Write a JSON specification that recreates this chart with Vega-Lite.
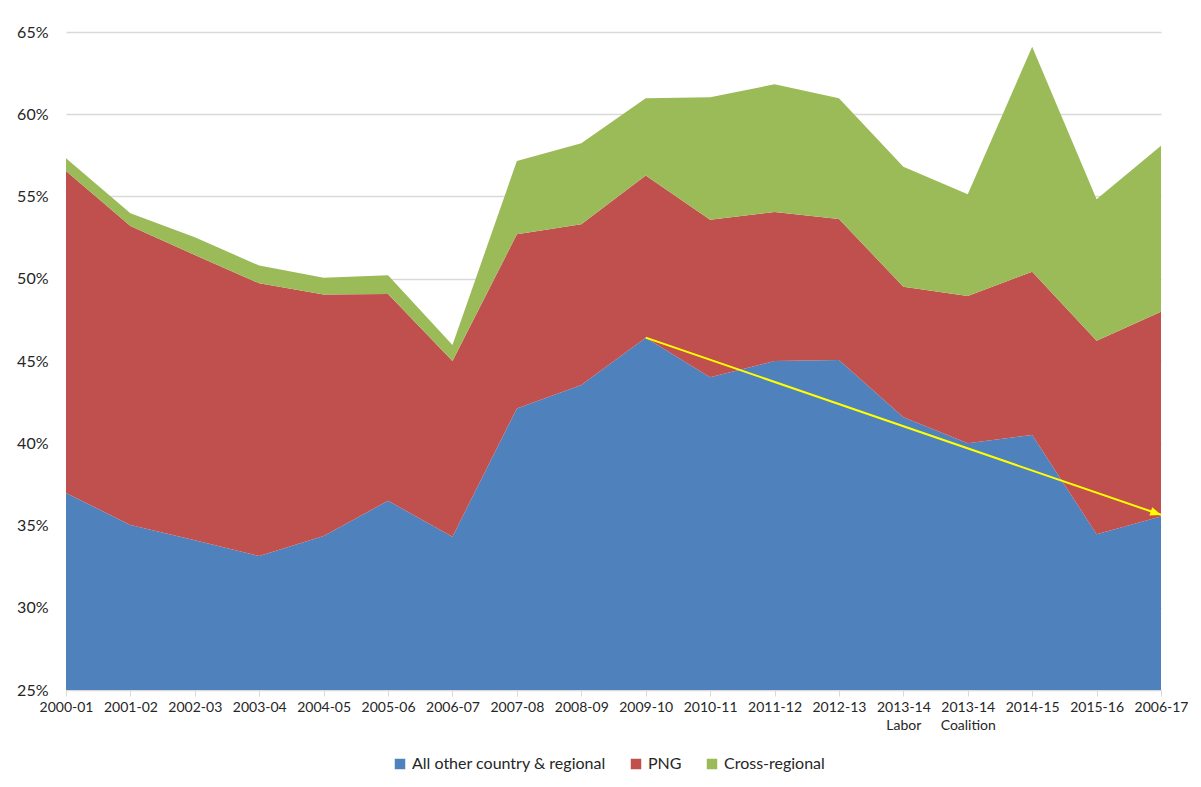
{
  "$schema": "https://vega.github.io/schema/vega-lite/v6.json",
  "width": 1095,
  "height": 658,
  "autosize": {"type": "none"},
  "padding": {"left": 66, "top": 32, "right": 40, "bottom": 97},
  "background": "white",
  "config": {
    "view": {"stroke": null},
    "font": "Lato",
    "axis": {"labelFont": "Lato", "labelColor": "#262626"},
    "legend": {"labelFont": "Lato", "labelColor": "#262626"}
  },
  "datasets": {
    "shares": [
      {"year": "2000-01", "s": "All other country & regional", "o": 1, "v": 0.3698},
      {"year": "2000-01", "s": "PNG", "o": 2, "v": 0.1957},
      {"year": "2000-01", "s": "Cross-regional", "o": 3, "v": 0.0077},
      {"year": "2001-02", "s": "All other country & regional", "o": 1, "v": 0.3503},
      {"year": "2001-02", "s": "PNG", "o": 2, "v": 0.1817},
      {"year": "2001-02", "s": "Cross-regional", "o": 3, "v": 0.0078},
      {"year": "2002-03", "s": "All other country & regional", "o": 1, "v": 0.3410},
      {"year": "2002-03", "s": "PNG", "o": 2, "v": 0.1734},
      {"year": "2002-03", "s": "Cross-regional", "o": 3, "v": 0.0108},
      {"year": "2003-04", "s": "All other country & regional", "o": 1, "v": 0.3315},
      {"year": "2003-04", "s": "PNG", "o": 2, "v": 0.1657},
      {"year": "2003-04", "s": "Cross-regional", "o": 3, "v": 0.0108},
      {"year": "2004-05", "s": "All other country & regional", "o": 1, "v": 0.3436},
      {"year": "2004-05", "s": "PNG", "o": 2, "v": 0.1469},
      {"year": "2004-05", "s": "Cross-regional", "o": 3, "v": 0.0101},
      {"year": "2005-06", "s": "All other country & regional", "o": 1, "v": 0.3650},
      {"year": "2005-06", "s": "PNG", "o": 2, "v": 0.1257},
      {"year": "2005-06", "s": "Cross-regional", "o": 3, "v": 0.0114},
      {"year": "2006-07", "s": "All other country & regional", "o": 1, "v": 0.3432},
      {"year": "2006-07", "s": "PNG", "o": 2, "v": 0.1068},
      {"year": "2006-07", "s": "Cross-regional", "o": 3, "v": 0.0097},
      {"year": "2007-08", "s": "All other country & regional", "o": 1, "v": 0.4212},
      {"year": "2007-08", "s": "PNG", "o": 2, "v": 0.1058},
      {"year": "2007-08", "s": "Cross-regional", "o": 3, "v": 0.0446},
      {"year": "2008-09", "s": "All other country & regional", "o": 1, "v": 0.4354},
      {"year": "2008-09", "s": "PNG", "o": 2, "v": 0.0977},
      {"year": "2008-09", "s": "Cross-regional", "o": 3, "v": 0.0492},
      {"year": "2009-10", "s": "All other country & regional", "o": 1, "v": 0.4642},
      {"year": "2009-10", "s": "PNG", "o": 2, "v": 0.0985},
      {"year": "2009-10", "s": "Cross-regional", "o": 3, "v": 0.0470},
      {"year": "2010-11", "s": "All other country & regional", "o": 1, "v": 0.4401},
      {"year": "2010-11", "s": "PNG", "o": 2, "v": 0.0958},
      {"year": "2010-11", "s": "Cross-regional", "o": 3, "v": 0.0744},
      {"year": "2011-12", "s": "All other country & regional", "o": 1, "v": 0.4500},
      {"year": "2011-12", "s": "PNG", "o": 2, "v": 0.0906},
      {"year": "2011-12", "s": "Cross-regional", "o": 3, "v": 0.0776},
      {"year": "2012-13", "s": "All other country & regional", "o": 1, "v": 0.4506},
      {"year": "2012-13", "s": "PNG", "o": 2, "v": 0.0857},
      {"year": "2012-13", "s": "Cross-regional", "o": 3, "v": 0.0734},
      {"year": "2013-14|Labor", "s": "All other country & regional", "o": 1, "v": 0.4158},
      {"year": "2013-14|Labor", "s": "PNG", "o": 2, "v": 0.0794},
      {"year": "2013-14|Labor", "s": "Cross-regional", "o": 3, "v": 0.0729},
      {"year": "2013-14|Coalition", "s": "All other country & regional", "o": 1, "v": 0.4000},
      {"year": "2013-14|Coalition", "s": "PNG", "o": 2, "v": 0.0895},
      {"year": "2013-14|Coalition", "s": "Cross-regional", "o": 3, "v": 0.0618},
      {"year": "2014-15", "s": "All other country & regional", "o": 1, "v": 0.4050},
      {"year": "2014-15", "s": "PNG", "o": 2, "v": 0.0993},
      {"year": "2014-15", "s": "Cross-regional", "o": 3, "v": 0.1368},
      {"year": "2015-16", "s": "All other country & regional", "o": 1, "v": 0.3447},
      {"year": "2015-16", "s": "PNG", "o": 2, "v": 0.1176},
      {"year": "2015-16", "s": "Cross-regional", "o": 3, "v": 0.0860},
      {"year": "2006-17", "s": "All other country & regional", "o": 1, "v": 0.3554},
      {"year": "2006-17", "s": "PNG", "o": 2, "v": 0.1246},
      {"year": "2006-17", "s": "Cross-regional", "o": 3, "v": 0.1009}
    ],
    "trend": [
      {"year": "2009-10", "v": 0.4642},
      {"year": "2006-17", "v": 0.3565}
    ]
  },
  "layer": [
    {
      "data": {"name": "shares"},
      "mark": {"type": "area", "clip": true, "opacity": 1},
      "encoding": {
        "x": {
          "field": "year",
          "type": "ordinal",
          "sort": null,
          "scale": {"type": "point", "padding": 0},
          "axis": {
            "title": null,
            "labelAngle": 0,
            "labelFontSize": 14,
            "labelPadding": 4,
            "labelExpr": "split(datum.label, '|')",
            "labelLineHeight": 18,
            "domainColor": "#d9d9d9",
            "tickColor": "#d9d9d9",
            "tickSize": 6,
            "grid": false
          }
        },
        "y": {
          "field": "v",
          "type": "quantitative",
          "stack": "zero",
          "scale": {"domain": [0.25, 0.65], "zero": false, "nice": false},
          "axis": {
            "title": null,
            "format": ".0%",
            "values": [0.25, 0.3, 0.35, 0.4, 0.45, 0.5, 0.55, 0.6, 0.65],
            "labelFontSize": 16,
            "labelPadding": 18,
            "domain": false,
            "ticks": false,
            "grid": true,
            "gridColor": "#d9d9d9",
            "gridWidth": 1.3
          }
        },
        "order": {"field": "o", "type": "quantitative"},
        "color": {
          "field": "s",
          "type": "nominal",
          "scale": {
            "domain": ["All other country & regional", "PNG", "Cross-regional"],
            "range": ["#4f81bd", "#c0504d", "#9bbb59"]
          },
          "legend": {
            "title": null,
            "orient": "none",
            "direction": "horizontal",
            "legendX": 326,
            "legendY": 724,
            "symbolType": "square",
            "symbolSize": 110,
            "symbolStrokeWidth": 0,
            "symbolOpacity": 1,
            "labelFontSize": 16,
            "labelLimit": 0,
            "labelOffset": 4,
            "columnPadding": 22
          }
        }
      }
    },
    {
      "data": {"name": "trend"},
      "mark": {"type": "line", "color": "#ffff00", "strokeWidth": 2},
      "encoding": {
        "x": {"field": "year", "type": "ordinal", "sort": null},
        "y": {"field": "v", "type": "quantitative"}
      }
    },
    {
      "data": {"name": "trend"},
      "transform": [{"filter": "datum.year == '2006-17'"}],
      "mark": {"type": "point", "shape": "M-1,-0.8L1,0L-1,0.8Z", "filled": true, "color": "#ffff00", "opacity": 1, "size": 120, "angle": 19, "xOffset": -5, "yOffset": -1.7},
      "encoding": {
        "x": {"field": "year", "type": "ordinal", "sort": null},
        "y": {"field": "v", "type": "quantitative"}
      }
    }
  ]
}
